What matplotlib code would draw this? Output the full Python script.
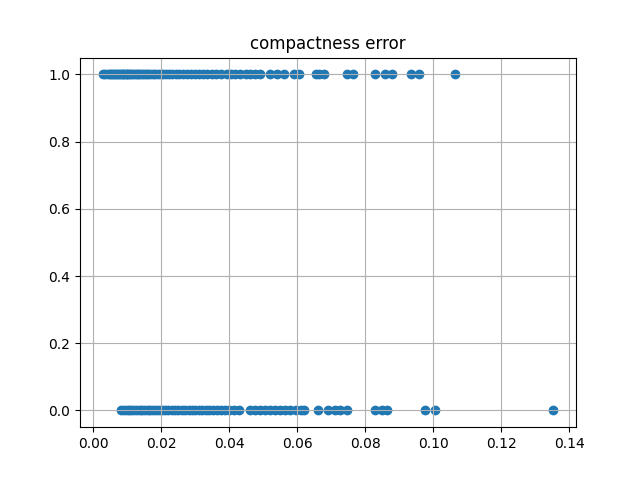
import matplotlib
matplotlib.use("Agg")
import matplotlib.pyplot as plt

benign_x = [0.0027, 0.0035, 0.0042, 0.0048, 0.0053, 0.0058, 0.0062, 0.0067, 0.0071, 0.0075,
            0.0079, 0.0083, 0.0087, 0.0091, 0.0095, 0.0099, 0.0103, 0.0107, 0.0112, 0.0117,
            0.0122, 0.0127, 0.0132, 0.0138, 0.0143, 0.0149, 0.0155, 0.0161, 0.0168, 0.0175,
            0.0182, 0.0190, 0.0198, 0.0206, 0.0214, 0.0223, 0.0232, 0.0242, 0.0252, 0.0263,
            0.0275, 0.0287, 0.0299, 0.0311, 0.0323, 0.0335, 0.0348, 0.0362, 0.0377, 0.0392,
            0.0405, 0.0418, 0.0432, 0.0448, 0.0462, 0.0475, 0.0490, 0.0520, 0.0540, 0.0560,
            0.0590, 0.0605, 0.0655, 0.0665, 0.0678, 0.0745, 0.0765, 0.0828, 0.0858, 0.0878,
            0.0935, 0.0958, 0.1064]
benign_y = [1] * len(benign_x)

malignant_x = [0.0082, 0.0090, 0.0098, 0.0105, 0.0112, 0.0120, 0.0128, 0.0136, 0.0144, 0.0152,
               0.0160, 0.0168, 0.0176, 0.0185, 0.0194, 0.0203, 0.0212, 0.0221, 0.0230, 0.0240,
               0.0250, 0.0260, 0.0270, 0.0280, 0.0290, 0.0300, 0.0310, 0.0320, 0.0330, 0.0340,
               0.0352, 0.0364, 0.0376, 0.0388, 0.0400, 0.0415, 0.0430, 0.0460, 0.0475, 0.0490,
               0.0505, 0.0520, 0.0535, 0.0550, 0.0565, 0.0580, 0.0595, 0.0610, 0.0620, 0.0660,
               0.0690, 0.0710, 0.0725, 0.0745, 0.0830, 0.0850, 0.0865, 0.0975, 0.1006, 0.1354]
malignant_y = [0] * len(malignant_x)

fig, ax = plt.subplots(figsize=(6.4, 4.8), dpi=100)
ax.scatter(benign_x + malignant_x, benign_y + malignant_y, color="#1f77b4")
ax.set_title("compactness error")
ax.grid(True)
fig.savefig("out.png")
